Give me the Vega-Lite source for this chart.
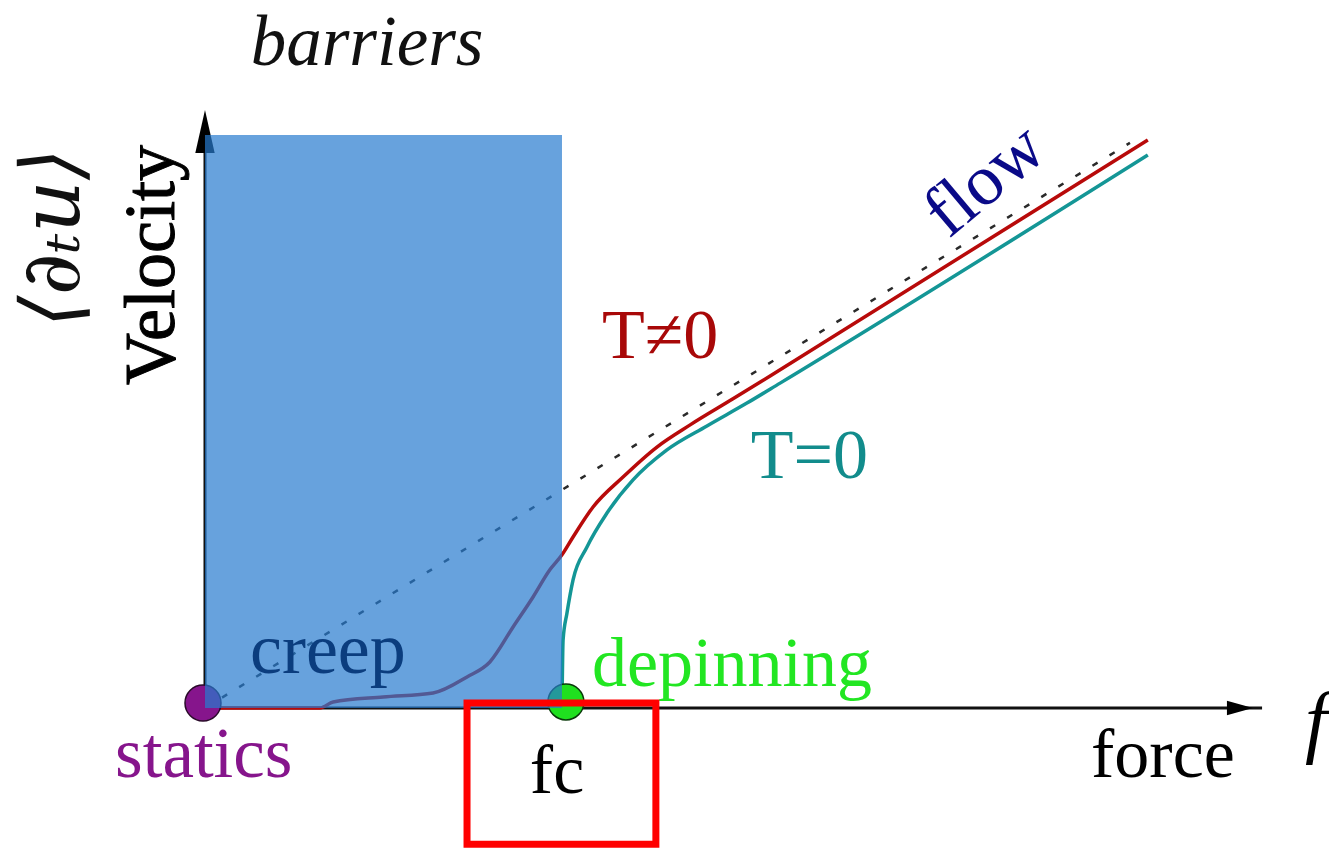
{
  "$schema": "https://vega.github.io/schema/vega-lite/v6.json",
  "width": 1329,
  "height": 848,
  "autosize": {"type": "fit", "contains": "padding"},
  "padding": 0,
  "background": "white",
  "config": {"view": {"stroke": null}},
  "datasets": {
    "curves": [
      {"series": "dash", "f": 0.0, "v": 0.0},
      {"series": "dash", "f": 2.591, "v": 1.583},
      {"series": "red", "f": 0.0, "v": 0.0},
      {"series": "red", "f": 0.322, "v": 0.0},
      {"series": "red", "f": 0.359, "v": 0.017},
      {"series": "red", "f": 0.499, "v": 0.031},
      {"series": "red", "f": 0.639, "v": 0.042},
      {"series": "red", "f": 0.734, "v": 0.087},
      {"series": "red", "f": 0.798, "v": 0.129},
      {"series": "red", "f": 0.863, "v": 0.227},
      {"series": "red", "f": 0.919, "v": 0.311},
      {"series": "red", "f": 0.966, "v": 0.387},
      {"series": "red", "f": 1.0, "v": 0.429},
      {"series": "red", "f": 1.031, "v": 0.479},
      {"series": "red", "f": 1.087, "v": 0.563},
      {"series": "red", "f": 1.171, "v": 0.647},
      {"series": "red", "f": 1.266, "v": 0.731},
      {"series": "red", "f": 1.359, "v": 0.793},
      {"series": "red", "f": 1.479, "v": 0.866},
      {"series": "red", "f": 1.583, "v": 0.930},
      {"series": "red", "f": 2.641, "v": 1.591},
      {"series": "teal", "f": 1.0, "v": 0.0},
      {"series": "teal", "f": 1.003, "v": 0.19},
      {"series": "teal", "f": 1.014, "v": 0.266},
      {"series": "teal", "f": 1.031, "v": 0.359},
      {"series": "teal", "f": 1.07, "v": 0.451},
      {"series": "teal", "f": 1.126, "v": 0.546},
      {"series": "teal", "f": 1.199, "v": 0.639},
      {"series": "teal", "f": 1.294, "v": 0.723},
      {"series": "teal", "f": 1.406, "v": 0.790},
      {"series": "teal", "f": 1.518, "v": 0.854},
      {"series": "teal", "f": 1.611, "v": 0.910},
      {"series": "teal", "f": 2.641, "v": 1.549},
      {"series": "yaxis", "f": 0.0, "v": 0.0},
      {"series": "yaxis", "f": 0.0, "v": 1.62},
      {"series": "xaxis", "f": 0.0, "v": 0.0},
      {"series": "xaxis", "f": 2.961, "v": 0.0}
    ],
    "points": [
      {"name": "statics", "f": -0.0056, "v": 0.014},
      {"name": "fc", "f": 1.011, "v": 0.017}
    ],
    "arrows": [
      {"dir": "up", "f": 0.0, "v": 1.615},
      {"dir": "right", "f": 2.899, "v": 0.0}
    ],
    "regions": [
      {"name": "barriers", "f": 0.0, "f2": 1.0, "v": 0.0, "v2": 1.605},
      {"name": "highlight", "f": 0.734, "f2": 1.263, "v": 0.014, "v2": -0.382}
    ],
    "labels": [
      {"label": "barriers", "f": 0.454, "v": 1.801},
      {"label": "Velocity", "f": -0.0868, "v": 1.241},
      {"label": "⟨∂ₜu⟩", "f": -0.352, "v": 1.317},
      {"label": "creep", "f": 0.126, "v": 0.098},
      {"label": "statics", "f": -0.252, "v": -0.193},
      {"label": "fc", "f": 0.91, "v": -0.238},
      {"label": "depinning", "f": 1.084, "v": 0.0616},
      {"label": "T≠0", "f": 1.112, "v": 0.98},
      {"label": "T=0", "f": 1.529, "v": 0.644},
      {"label": "flow", "f": 2.224, "v": 1.431},
      {"label": "force", "f": 2.482, "v": -0.193},
      {"label": "f", "f": 3.081, "v": -0.112}
    ]
  },
  "encoding": {
    "x": {"field": "f", "type": "quantitative", "axis": null, "scale": {"domain": [-0.5742, 3.1485], "nice": false, "zero": false}},
    "y": {"field": "v", "type": "quantitative", "axis": null, "scale": {"domain": [-0.3922, 1.9832], "nice": false, "zero": false}}
  },
  "layer": [
    {
      "data": {"name": "curves"},
      "transform": [{"filter": "datum.series === 'xaxis' || datum.series === 'yaxis'"}],
      "mark": {"type": "line", "color": "#111111", "strokeWidth": 3},
      "encoding": {"detail": {"field": "series"}}
    },
    {
      "data": {"name": "curves"},
      "transform": [{"filter": "datum.series === 'dash'"}],
      "mark": {"type": "line", "color": "#2a2a2a", "strokeWidth": 2.5, "strokeDash": [6, 14]},
      "encoding": {}
    },
    {
      "data": {"name": "curves"},
      "transform": [{"filter": "datum.series === 'teal'"}],
      "mark": {"type": "line", "color": "#149696", "strokeWidth": 3.5, "interpolate": "monotone"},
      "encoding": {}
    },
    {
      "data": {"name": "curves"},
      "transform": [{"filter": "datum.series === 'red'"}],
      "mark": {"type": "line", "color": "#b80a0a", "strokeWidth": 3.5, "interpolate": "monotone"},
      "encoding": {}
    },
    {
      "data": {"name": "points"},
      "transform": [{"filter": "datum.name === 'statics'"}],
      "mark": {"type": "point", "shape": "circle", "filled": true, "size": 1296, "fill": "#86158c", "stroke": "#2a0a2a", "strokeWidth": 1.5, "opacity": 1}
    },
    {
      "data": {"name": "points"},
      "transform": [{"filter": "datum.name === 'fc'"}],
      "mark": {"type": "point", "shape": "circle", "filled": true, "size": 1296, "fill": "#1fe01f", "stroke": "#0a3a0a", "strokeWidth": 1.5, "opacity": 1}
    },
    {
      "data": {"name": "arrows"},
      "transform": [{"filter": "datum.dir === 'up'"}],
      "mark": {"type": "point", "shape": "M0,-1L0.45,1L-0.45,1Z", "filled": true, "size": 1849, "color": "#000000", "opacity": 1}
    },
    {
      "data": {"name": "arrows"},
      "transform": [{"filter": "datum.dir === 'right'"}],
      "mark": {"type": "point", "shape": "M1,0L-1,-0.55L-1,0.55Z", "filled": true, "size": 676, "color": "#000000", "opacity": 1}
    },
    {
      "data": {"name": "regions"},
      "transform": [{"filter": "datum.name === 'barriers'"}],
      "mark": {"type": "rect", "fill": "#267ace", "fillOpacity": 0.7},
      "encoding": {"x2": {"field": "f2"}, "y2": {"field": "v2"}}
    },
    {
      "data": {"name": "labels"},
      "transform": [{"filter": "datum.label === 'barriers'"}],
      "mark": {"type": "text", "font": "Liberation Serif", "fontStyle": "italic", "fontSize": 71, "color": "#111111", "align": "center", "baseline": "alphabetic"},
      "encoding": {"text": {"field": "label"}}
    },
    {
      "data": {"name": "labels"},
      "transform": [{"filter": "datum.label === 'Velocity'"}],
      "mark": {"type": "text", "font": "Liberation Serif", "fontSize": 72, "color": "#000000", "align": "center", "baseline": "alphabetic", "angle": 270, "stroke": "#000000", "strokeWidth": 1},
      "encoding": {"text": {"field": "label"}}
    },
    {
      "data": {"name": "labels"},
      "transform": [{"filter": "datum.label === '⟨∂ₜu⟩'"}],
      "mark": {"type": "text", "font": "DejaVu Serif", "fontStyle": "italic", "fontSize": 82, "color": "#111111", "align": "center", "baseline": "alphabetic", "angle": 270},
      "encoding": {"text": {"field": "label"}}
    },
    {
      "data": {"name": "labels"},
      "transform": [{"filter": "datum.label === 'creep'"}],
      "mark": {"type": "text", "font": "Liberation Serif", "fontSize": 72, "color": "#0b3d7e", "align": "left", "baseline": "alphabetic"},
      "encoding": {"text": {"field": "label"}}
    },
    {
      "data": {"name": "labels"},
      "transform": [{"filter": "datum.label === 'statics'"}],
      "mark": {"type": "text", "font": "Liberation Serif", "fontSize": 71, "color": "#86158c", "align": "left", "baseline": "alphabetic"},
      "encoding": {"text": {"field": "label"}}
    },
    {
      "data": {"name": "labels"},
      "transform": [{"filter": "datum.label === 'fc' || datum.label === 'force'"}],
      "mark": {"type": "text", "font": "Liberation Serif", "fontSize": 70, "color": "#000000", "align": "left", "baseline": "alphabetic"},
      "encoding": {"text": {"field": "label"}}
    },
    {
      "data": {"name": "labels"},
      "transform": [{"filter": "datum.label === 'depinning'"}],
      "mark": {"type": "text", "font": "Liberation Serif", "fontSize": 70, "color": "#22e622", "align": "left", "baseline": "alphabetic"},
      "encoding": {"text": {"field": "label"}}
    },
    {
      "data": {"name": "labels"},
      "transform": [{"filter": "datum.label === 'T≠0'"}],
      "mark": {"type": "text", "font": "Liberation Serif", "fontSize": 70, "color": "#a80808", "align": "left", "baseline": "alphabetic"},
      "encoding": {"text": {"field": "label"}}
    },
    {
      "data": {"name": "labels"},
      "transform": [{"filter": "datum.label === 'T=0'"}],
      "mark": {"type": "text", "font": "Liberation Serif", "fontSize": 70, "color": "#128c8c", "align": "left", "baseline": "alphabetic"},
      "encoding": {"text": {"field": "label"}}
    },
    {
      "data": {"name": "labels"},
      "transform": [{"filter": "datum.label === 'flow'"}],
      "mark": {"type": "text", "font": "Liberation Serif", "fontSize": 72, "color": "#0a0a88", "align": "center", "baseline": "alphabetic", "angle": 320},
      "encoding": {"text": {"field": "label"}}
    },
    {
      "data": {"name": "labels"},
      "transform": [{"filter": "datum.label === 'f'"}],
      "mark": {"type": "text", "font": "Liberation Serif", "fontStyle": "italic", "fontSize": 80, "color": "#000000", "align": "left", "baseline": "alphabetic"},
      "encoding": {"text": {"field": "label"}}
    },
    {
      "data": {"name": "regions"},
      "transform": [{"filter": "datum.name === 'highlight'"}],
      "mark": {"type": "rect", "fill": null, "fillOpacity": 0, "stroke": "#ff0000", "strokeWidth": 7},
      "encoding": {"x2": {"field": "f2"}, "y2": {"field": "v2"}}
    }
  ]
}
